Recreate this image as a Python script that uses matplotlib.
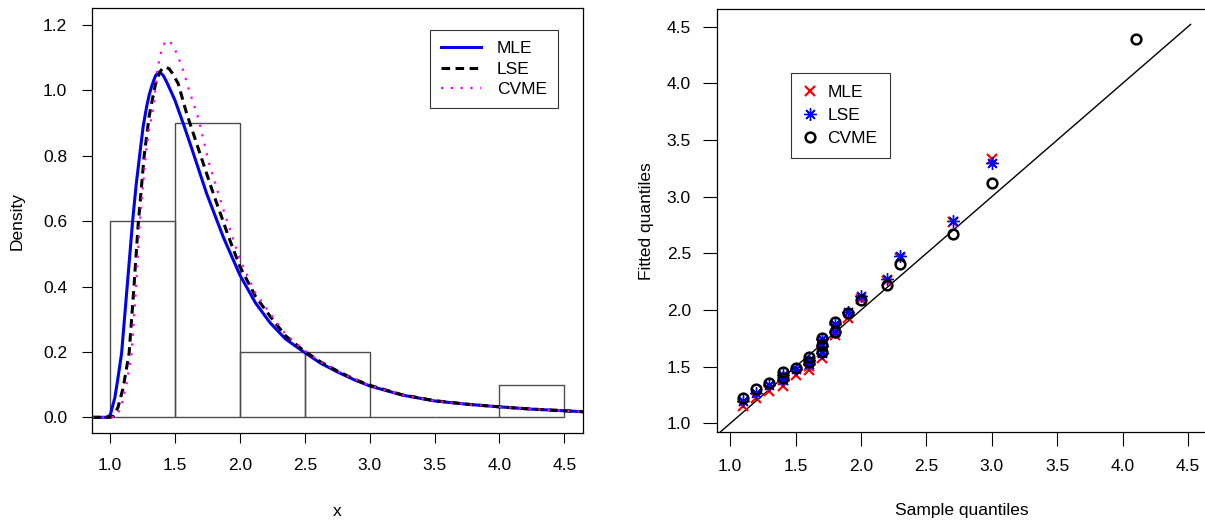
import matplotlib.pyplot as plt

plt.rcParams['font.family'] = ['Liberation Sans', 'DejaVu Sans']
plt.rcParams['font.size'] = 12.5

# histogram (density scale)
bin_left = [1.0, 1.5, 2.0, 2.5, 3.0, 3.5, 4.0]
bin_density = [0.6, 0.9, 0.2, 0.2, 0.0, 0.0, 0.1]

# fitted densities
mle_x = [0.86, 0.97, 1.0, 1.036, 1.06, 1.088, 1.11, 1.131, 1.152, 1.173, 1.2, 1.229, 1.254, 1.281,
         1.30, 1.319, 1.335, 1.35, 1.37, 1.39, 1.41, 1.435, 1.465, 1.499, 1.563, 1.628, 1.743,
         1.871, 2.0, 2.12, 2.231, 2.35, 2.488, 2.62, 2.75, 2.88, 3.0, 3.25, 3.5, 3.75, 4.0, 4.25,
         4.5, 4.65]
mle_y = [0.0, 0.0, 0.006, 0.06, 0.12, 0.196, 0.30, 0.40, 0.50, 0.60, 0.71, 0.807, 0.889, 0.95,
         0.985, 1.011, 1.03, 1.045, 1.054, 1.053, 1.045, 1.026, 1.0, 0.970, 0.899, 0.823, 0.685,
         0.552, 0.435, 0.35, 0.29, 0.24, 0.201, 0.166, 0.139, 0.115, 0.096, 0.068, 0.050, 0.040,
         0.032, 0.025, 0.020, 0.017]

lse_x = [0.86, 1.0, 1.023, 1.06, 1.10, 1.146, 1.18, 1.216, 1.262, 1.30, 1.319, 1.35, 1.38, 1.405,
         1.43, 1.455, 1.48, 1.524, 1.589, 1.666, 1.79, 1.91, 2.0, 2.12, 2.231, 2.35, 2.488, 2.62,
         2.75, 2.88, 3.0, 3.25, 3.5, 3.75, 4.0, 4.25, 4.5, 4.65]
lse_y = [0.0, 0.0, 0.003, 0.03, 0.09, 0.196, 0.38, 0.59, 0.80, 0.919, 0.96, 1.02, 1.055, 1.068,
         1.071, 1.066, 1.052, 1.021, 0.93, 0.838, 0.69, 0.555, 0.461, 0.37, 0.31, 0.25, 0.205,
         0.170, 0.142, 0.117, 0.098, 0.069, 0.051, 0.040, 0.032, 0.025, 0.020, 0.017]

cvme_x = [0.86, 1.0, 1.05, 1.09, 1.13, 1.165, 1.20, 1.229, 1.275, 1.30, 1.339, 1.357, 1.368,
          1.383, 1.399, 1.42, 1.439, 1.46, 1.486, 1.517, 1.543, 1.568, 1.609, 1.655, 1.678, 1.76,
          1.86, 2.0, 2.12, 2.231, 2.35, 2.488, 2.62, 2.75, 2.88, 3.0, 3.25, 3.5, 3.75, 4.0, 4.25,
          4.5, 4.65]
cvme_y = [0.0, 0.0, 0.002, 0.04, 0.11, 0.196, 0.40, 0.60, 0.807, 0.88, 0.96, 1.047, 1.072,
          1.101, 1.128, 1.145, 1.154, 1.150, 1.135, 1.110, 1.083, 1.055, 0.999, 0.945, 0.917, 0.78,
          0.65, 0.483, 0.38, 0.318, 0.255, 0.207, 0.170, 0.142, 0.117, 0.097, 0.068, 0.050, 0.040,
          0.032, 0.025, 0.020, 0.017]

# QQ plot
sample_q = [1.1, 1.2, 1.3, 1.4, 1.4, 1.5, 1.6, 1.6, 1.7, 1.7, 1.7, 1.8, 1.8, 1.9, 2.0, 2.2, 2.3,
            2.7, 3.0, 4.1]
mle_q = [1.15, 1.22, 1.285, 1.33, 1.38, 1.43, 1.47, 1.51, 1.575, 1.63, 1.69, 1.78, 1.85, 1.93,
         2.10, 2.26, 2.46, 2.78, 3.33, 4.95]
lse_q = [1.20, 1.265, 1.338, 1.38, 1.426, 1.476, 1.52, 1.56, 1.62, 1.68, 1.74, 1.81, 1.88, 1.98,
         2.12, 2.27, 2.475, 2.786, 3.30, 4.85]
cvme_q = [1.223, 1.303, 1.358, 1.403, 1.450, 1.491, 1.538, 1.582, 1.632, 1.691, 1.750, 1.809,
          1.891, 1.971, 2.088, 2.221, 2.404, 2.671, 3.124, 4.389]

ticks = [1.0, 1.5, 2.0, 2.5, 3.0, 3.5, 4.0, 4.5]
dens_ticks = [0.0, 0.2, 0.4, 0.6, 0.8, 1.0, 1.2]

fig = plt.figure(figsize=(12.05, 5.24), dpi=100)
ax1 = fig.add_axes([92 / 1205, 1 - 433 / 524, 491 / 1205, 425 / 524])
ax2 = fig.add_axes([717.3 / 1205, 1 - 432.3 / 524, 489 / 1205, 423.3 / 524])

# left panel: histogram + densities
ax1.bar(bin_left, bin_density, width=0.5, align='edge', fill=False, edgecolor='0.3', lw=1)
ax1.plot(mle_x, mle_y, color='#0000ee', lw=2.2, label='MLE')
ax1.plot(lse_x, lse_y, color='black', lw=2.2, ls=(0, (2.8, 1.8)), label='LSE')
ax1.plot(cvme_x, cvme_y, color='#ff00ff', lw=1.6, ls=(0, (1, 3.4)), label='CVME')
ax1.set_xlim(0.86, 4.644)
ax1.set_ylim(-0.048, 1.252)
ax1.set_xticks(ticks)
ax1.set_yticks(dens_ticks)
ax1.set_xlabel('x', labelpad=22)
ax1.set_ylabel('Density', labelpad=13)
ax1.tick_params(direction='out', length=7, pad=11, width=0.8)
leg1 = ax1.legend(loc='upper left', bbox_to_anchor=(430 / 1205, 1 - 30 / 524),
                  bbox_transform=fig.transFigure, frameon=True, fancybox=False,
                  edgecolor='black', handlelength=2.3, borderpad=0.65, labelspacing=0.3,
                  handletextpad=0.9, borderaxespad=0)
leg1.get_frame().set_linewidth(0.8)

# right panel: QQ plot
ax2.plot([0, 4.52], [0, 4.52], color='black', lw=1)
ax2.plot(sample_q, mle_q, ls='none', marker='x', ms=7.5, mew=1.6, color='#ff0000', label='MLE')
ax2.plot(sample_q, lse_q, ls='none', marker=(8, 2, 0), ms=9, mew=1.0, color='#0000ff', label='LSE')
ax2.plot(sample_q, cvme_q, ls='none', marker='o', ms=7, mew=1.8, mfc='none', color='black',
         label='CVME')
ax2.set_xlim(0.901, 4.64)
ax2.set_ylim(0.921, 4.656)
ax2.set_xticks(ticks)
ax2.set_yticks(ticks)
ax2.set_xlabel('Sample quantiles', labelpad=21)
ax2.set_ylabel('Fitted quantiles', labelpad=9)
ax2.tick_params(direction='out', length=10, pad=9, width=0.8)
leg2 = ax2.legend(loc='upper left', bbox_to_anchor=(791 / 1205, 1 - 73 / 524),
                  bbox_transform=fig.transFigure, frameon=True, fancybox=False,
                  edgecolor='black', handlelength=0.8, borderpad=0.7, labelspacing=0.45,
                  handletextpad=0.6, borderaxespad=0)
leg2.get_frame().set_linewidth(0.8)

for ax in (ax1, ax2):
    for s in ax.spines.values():
        s.set_linewidth(0.9)

fig.savefig('out.png', dpi=100)
